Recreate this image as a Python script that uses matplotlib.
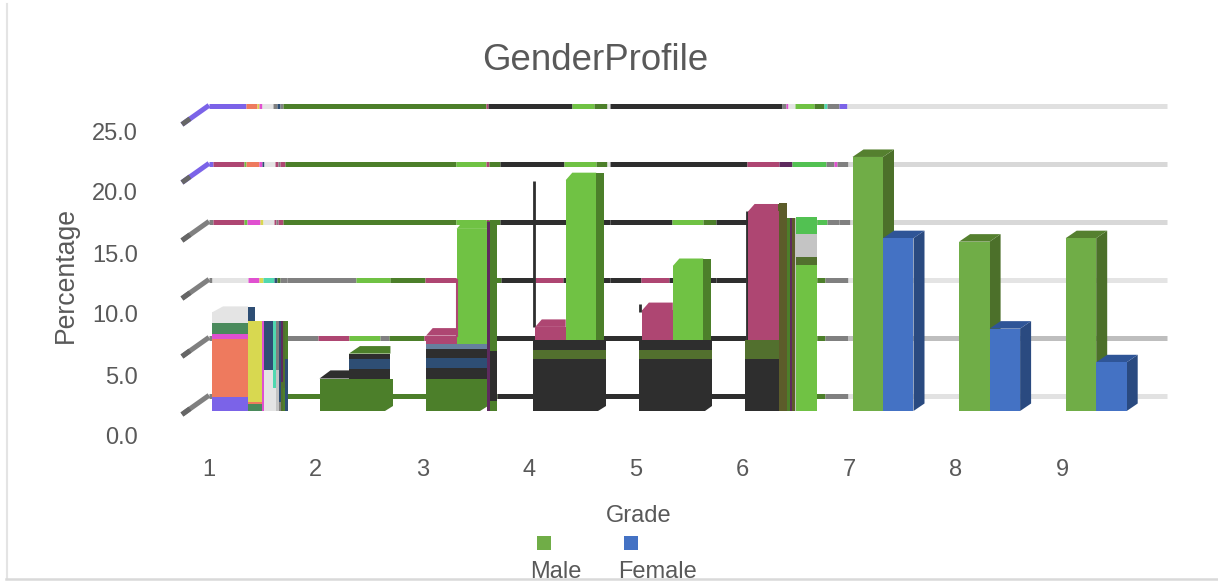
import numpy as np
import matplotlib
matplotlib.use("Agg")
import matplotlib.pyplot as plt
from matplotlib.patches import Polygon, Rectangle
from matplotlib.lines import Line2D

plt.rcParams['font.family'] = ['Liberation Sans', 'DejaVu Sans']

# Colours seen in the picture
P = '#7B63E8'   # purple
S = '#EE7A5E'   # salmon
Y = '#D8D850'   # yellow
H = '#E050D0'   # magenta
L = '#E4E4E4'   # light grey
D = '#808080'   # grey
N = '#2E4E74'   # navy
T = '#50D8B0'   # teal
M = '#AE4672'   # maroon
G = '#4C7F2A'   # dark green
B = '#70C244'   # bright green
K = '#2E2E2E'   # black
O = '#52702E'   # olive
W = '#5C5C2A'   # muddy side colour
V = '#5E2A5E'   # dark violet
E = '#4A8A5C'   # sea green
A = '#66809E'   # steel
C = '#52C152'   # mint green
R = '#C4C4C4'   # mid grey
MALE = '#70AD47'
FEMALE = '#4472C4'
MALE_SIDE = '#4C702A'
FEMALE_SIDE = '#2A4A80'
MALE_TOP = '#55802F'
FEMALE_TOP = '#2F5597'

# Data
grades = [1, 2, 3, 4, 5, 6, 7, 8, 9]
y_ticks = [0, 5, 10, 15, 20, 25]

# clean bars on the right
clean_grades = [7, 8, 9]
male = [21.9, 14.6, 14.9]
female = [14.9, 7.1, 4.2]

# grade 1 front column, stacked from the bottom
g1_heights = [1.2, 5.0, 0.4, 0.95, 0.95]
g1_colors = [P, S, H, E, L]
# grade 1 second column
g1b_heights = [0.6, 0.2, 7.0]
g1b_colors = [E, S, Y]
g1b_cap = 1.2
# grade 1 stripes, width / lower part / upper part
g1_strip_w = [2, 9, 3, 3, 2, 2, 2, 3]
g1_strip_low = [7.8, 3.5, 2.0, 3.5, 0.8, 2.5, 2.0, 4.5]
g1_strip_up = [0.0, 4.3, 5.8, 4.3, 7.0, 5.3, 5.8, 3.3]
g1_strip_low_c = [H, L, L, R, D, O, G, N]
g1_strip_up_c = [H, N, T, D, N, V, O, G]

# grades 2-5, full width base block
base_grades = [2, 3, 4, 5]
base_width = [73, 62, 73, 73]
base_heights = [[2.8],
                [2.8, 0.95, 0.85, 0.75, 0.45],
                [4.5, 0.75, 0.85],
                [4.5, 0.75, 0.85]]
base_colors = [[G], [G, K, N, K, A], [K, O, K], [K, O, K]]

# grade 2 top on the right half
g2_heights = [0.8, 0.85, 0.5]
g2_colors = [K, N, K]

# bright / maroon columns sitting on the base
col_grades = [3, 4, 5]
col_shift = [0, 2.5, 3]
col_base = [5.75, 6.1, 6.1]
maroon_top = [6.5, 7.25, 8.7]
bright_top = [15.7, 19.9, 12.5]

# grade 6
g6_heights = [4.5, 1.6]
g6_colors = [K, O]
g6_maroon_base = 6.1
g6_maroon_top = 17.2
g6_side_tops = [17.9, 16.6, 16.6, 16.6, 16.6]
g6_side_colors = [W, G, V, W, R]
g6_side_w = [8, 3, 2, 3, 1]
g6b_heights = [12.6, 0.7, 2.0, 1.4]
g6b_colors = [B, O, R, C]

# back gridlines: level, then runs of colour with their length
grid_levels = [25, 20, 15, 10, 5, 0]
grid_ends = ['#E0E0E0', '#D8D8D8', '#D8D8D8', '#E4E4E4', '#BEBEBE', '#E2E2E2']
grid_runs = [
    [37, 11, 2, 3, 11, 4, 3, 3, 203, 2, 84, 22, 13, 3, 172, 4, 2, 7, 19, 10, 3, 12, 8],
    [4, 31, 2, 13, 3, 2, 11, 3, 2, 5, 171, 30, 3, 11, 64, 32, 11, 3, 137, 32, 13, 34, 8, 3, 11],
    [4, 31, 3, 13, 3, 11, 2, 2, 5, 173, 30, 3, 11, 110, 62, 31, 13, 31, 70, 10, 12, 11],
    [3, 36, 11, 4, 11, 3, 3, 7, 69, 34, 35, 31, 31, 14, 34, 28, 47, 31, 28, 47, 30, 71, 8, 23],
    [4, 74, 31, 31, 31, 9, 35, 31, 41, 250, 71, 8, 23],
    [76, 212, 250, 78, 23],
]
grid_colors = [
    [P, S, Y, H, L, D, N, D, G, M, K, B, G, L, K, D, H, L, B, G, T, D, P],
    [P, M, B, S, H, N, L, M, D, M, G, B, M, G, K, B, G, L, K, M, V, C, D, H, D],
    [D, M, B, H, Y, L, M, D, M, G, B, M, G, K, K, B, G, K, O, C, D, D],
    [D, L, H, Y, T, N, G, D, D, B, G, M, M, G, K, M, K, K, M, K, K, O, G, D],
    [D, L, D, M, B, D, G, M, M, K, O, G, D],
    [D, G, K, G, D],
]
grid_start_px = 209

# thin dark frame lines behind the columns
frame_grades = [4, 5, 6]
frame_low = [7.2, 8.5, 6.1]
frame_high = [19.8, 9.2, 17.2]

# layout, in picture pixels
W_PX, H_PX = 1218, 582
GRADE_PX = 106.6
VALUE_PX = 11.6
ZERO_PX = 411
G7_PX = 883
LEFT, RIGHT, TOP, BOTTOM = 170, 1180, 90, 445

BAR_W = 30.5 / GRADE_PX
DX = 11 / GRADE_PX
DY = 7.5 / VALUE_PX
LINE_W = 5 * 72 / 100

fig = plt.figure(figsize=(W_PX / 100, H_PX / 100), dpi=100)
# chart frame: only the left and bottom edges show
fig.add_artist(Line2D([7 / W_PX, 7 / W_PX], [1 - 4 / H_PX, 1 - 579 / H_PX], color='#E4E4E4', lw=1.5))
fig.add_artist(Line2D([6 / W_PX, 1], [1 - 579 / H_PX, 1 - 579 / H_PX], color='#D9D9D9', lw=1.8))

ax = fig.add_axes([LEFT / W_PX, 1 - BOTTOM / H_PX, (RIGHT - LEFT) / W_PX, (BOTTOM - TOP) / H_PX])
ax.patch.set_alpha(0)
ax.set_xlim(7 + (LEFT - G7_PX) / GRADE_PX, 7 + (RIGHT - G7_PX) / GRADE_PX)
ax.set_ylim((ZERO_PX - BOTTOM) / VALUE_PX, (ZERO_PX - TOP) / VALUE_PX)
for s in ax.spines.values():
    s.set_visible(False)
ax.set_yticks([])
ax.set_xticks([g - 0.32 for g in grades])
ax.set_xticklabels(grades)
ax.tick_params(axis='x', length=0, pad=10, labelsize=17, labelcolor='#595959')


def px_x(px):
    return 7 + (px - G7_PX) / GRADE_PX


def stack(x, width, heights, colors, bottom=0.0, z=3):
    for h, c in zip(heights, colors):
        ax.bar(x, h, width, bottom=bottom, color=c, align='edge', zorder=z, linewidth=0)
        bottom += h
    return bottom


def box(x, width, low, high, face, side, top, z=3):
    # one 3D looking bar: side face, top face, then the front
    ax.add_patch(Polygon([(x + width, low), (x + width + DX, low + DY), (x + width + DX, high + DY), (x + width, high)],
                         fc=side, ec='none', zorder=z))
    ax.add_patch(Polygon([(x, high), (x + DX, high + DY), (x + width + DX, high + DY), (x + width, high)],
                         fc=top, ec='none', zorder=z))
    ax.bar(x, high - low, width, bottom=low, color=face, align='edge', zorder=z + 0.1, linewidth=0)


def broken_box(x, width, low, high, face, side, z=3, side_w=8):
    # the broken grades: chamfer on the left only, side face is a plain strip
    sw = side_w / GRADE_PX
    ax.add_patch(Polygon([(x, high), (x + 0.6 * DX, high + DY), (x + width, high + DY), (x + width, high)],
                         fc=face, ec='none', zorder=z))
    ax.bar(x + width, high + DY - low, sw, bottom=low, color=side, align='edge', zorder=z, linewidth=0)
    ax.bar(x, high - low, width, bottom=low, color=face, align='edge', zorder=z + 0.1, linewidth=0)


# left ramps of the gridlines
for i, v in enumerate(grid_levels):
    c = P if v >= 20 else D
    ax.plot([px_x(182), px_x(209)], [v - 0.3, v + 1.35], color=c, lw=LINE_W, zorder=1, solid_capstyle='butt')
    ax.plot([px_x(182), px_x(190)], [v - 0.3, v + 0.2], color='#666666', lw=LINE_W, zorder=1, solid_capstyle='butt')

# back gridlines
for level, runs, colors, end in zip(grid_levels, grid_runs, grid_colors, grid_ends):
    y = level + 1.3
    x0 = px_x(grid_start_px)
    for w, c in zip(runs, colors):
        x1 = x0 + w / GRADE_PX
        ax.plot([x0, x1], [y, y], color=c, lw=LINE_W, zorder=1, solid_capstyle='butt')
        x0 = x1
    ax.plot([x0, px_x(1167)], [y, y], color=end, lw=LINE_W, zorder=1, solid_capstyle='butt')

# frame lines
for g, lo, hi in zip(frame_grades, frame_low, frame_high):
    ax.plot([g - BAR_W + 0.01] * 2, [lo, hi], color=K, lw=2, zorder=2, solid_capstyle='butt')

# grade 1
g = grades[0]
x1 = px_x(212)
top1 = stack(x1, 36 / GRADE_PX, g1_heights, g1_colors)
ax.add_patch(Polygon([(x1, top1), (x1 + DX, top1 + 6 / VALUE_PX), (x1 + 36 / GRADE_PX, top1 + 6 / VALUE_PX), (x1 + 36 / GRADE_PX, top1)],
                     fc=L, ec='none', zorder=3))
t1b = stack(px_x(248), 14 / GRADE_PX, g1b_heights, g1b_colors)
ax.bar(px_x(248), g1b_cap, 7 / GRADE_PX, bottom=t1b, color=N, align='edge', zorder=3, linewidth=0)
x0 = px_x(262)
for w, lo, up, cl, cu in zip(g1_strip_w, g1_strip_low, g1_strip_up, g1_strip_low_c, g1_strip_up_c):
    stack(x0, w / GRADE_PX, [lo, up], [cl, cu])
    x0 += w / GRADE_PX

# grades 2-5, blocks, with the bottom right corner cut off
for g, bw, hs, cs in zip(base_grades, base_width, base_heights, base_colors):
    stack(g - BAR_W, bw / GRADE_PX, hs, cs)
    xr = g - BAR_W + bw / GRADE_PX
    ax.add_patch(Polygon([(xr - 0.7 * DX, 0), (xr, 0), (xr, 0.7 * DY)], fc='white', ec='none', zorder=3.5))

# grade 2 female part and black shoulder
g = 2
x = g - 0.01
t = stack(x, BAR_W + DX, g2_heights, g2_colors, bottom=base_heights[0][0])
ax.add_patch(Polygon([(x, t), (x + DX, t + DY), (x + BAR_W + DX, t + DY), (x + BAR_W + DX, t)], fc=G, ec='none', zorder=3))
t0 = base_heights[0][0]
ax.add_patch(Polygon([(g - BAR_W, t0), (g - BAR_W + DX, t0 + 0.7), (g, t0 + 0.7), (g, t0)], fc=K, ec='none', zorder=3))

# bright and maroon columns
for g, sh, lo, mt, bt in zip(col_grades, col_shift, col_base, maroon_top, bright_top):
    xb = g + sh / GRADE_PX
    broken_box(xb - BAR_W, BAR_W, lo, mt, M, M, z=3)
    broken_box(xb, BAR_W, lo, bt, B, G, z=4)

# grade 3 right edge: dark strip, green strip and black foot
ax.bar(px_x(487), 16.3, 3 / GRADE_PX, color=V, align='edge', zorder=4.5, linewidth=0)
ax.bar(px_x(490), 16.3, 7 / GRADE_PX, color=G, align='edge', zorder=4.5, linewidth=0)
ax.bar(px_x(490), 4.3, 7 / GRADE_PX, bottom=0.9, color=K, align='edge', zorder=4.6, linewidth=0)
ax.plot([3, 3], [6.5, 11.3], color=M, lw=1.5, zorder=5)

# grade 6
x6 = px_x(745)
stack(x6, 38 / GRADE_PX, g6_heights, g6_colors)
broken_box(px_x(748), BAR_W, g6_maroon_base, g6_maroon_top, M, W, z=3)
x0 = px_x(779)
for top, c, w in zip(g6_side_tops, g6_side_colors, g6_side_w):
    ax.bar(x0, top, w / GRADE_PX, color=c, align='edge', zorder=4, linewidth=0)
    x0 += w / GRADE_PX
stack(px_x(796), 21 / GRADE_PX, g6b_heights, g6b_colors, z=4)

# clean bars
for g, m, f in zip(clean_grades, male, female):
    box(g - BAR_W, BAR_W, 0, m, MALE, MALE_SIDE, MALE_TOP, z=5)
    box(g, BAR_W, 0, f, FEMALE, FEMALE_SIDE, FEMALE_TOP, z=6)

# value axis labels sit lower than the plot floor
ax2 = fig.add_axes([LEFT / W_PX, 1 - 436 / H_PX, 0.01, (436 - 131) / H_PX])
ax2.patch.set_alpha(0)
ax2.set_ylim(0, 25)
ax2.set_xticks([])
ax2.set_yticks(y_ticks)
ax2.set_yticklabels(['%.1f' % v for v in y_ticks])
ax2.tick_params(axis='y', length=0, pad=23, labelsize=17, labelcolor='#595959')
for s in ax2.spines.values():
    s.set_visible(False)

# texts
fig.text(595 / W_PX, 1 - 60 / H_PX, 'GenderProfile', fontsize=26.4, color='#595959', ha='center', va='center')
fig.text(66 / W_PX, 1 - 275 / H_PX, 'Percentage', fontsize=19.2, color='#595959', rotation=90, ha='center', va='center')
fig.text(639 / W_PX, 1 - 516 / H_PX, 'Grade', fontsize=17, color='#595959', ha='center', va='center')

# legend
legend_names = ['Male', 'Female']
legend_colors = [MALE, FEMALE]
legend_marker_x = [537, 624]
legend_text_x = [556, 658]
for name, c, mx, tx in zip(legend_names, legend_colors, legend_marker_x, legend_text_x):
    fig.patches.append(Rectangle((mx / W_PX, 1 - 550 / H_PX), 14 / W_PX, 14 / H_PX, transform=fig.transFigure, fc=c, ec='none'))
    fig.text(tx / W_PX, 1 - 572 / H_PX, name, fontsize=17, color='#595959', ha='center', va='center')

fig.savefig('out.png', dpi=100)
